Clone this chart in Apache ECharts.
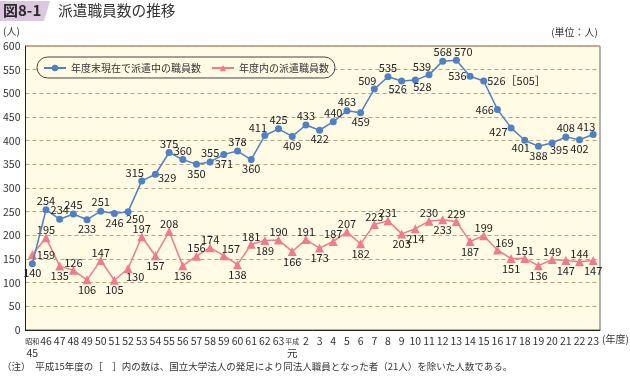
<!DOCTYPE html>
<html>
<head>
<meta charset="utf-8">
<script src="https://cdn.jsdelivr.net/npm/echarts@6/dist/echarts.min.js"></script>
<style>
  html, body { margin: 0; padding: 0; background: #fff; }
  #main { width: 630px; height: 376px; }
</style>
</head>
<body>
<div id="main"></div>
<script>
// 年度（昭和45〜63、平成元〜23）
const years = ['昭和\n45', '46', '47', '48', '49', '50', '51', '52', '53', '54', '55', '56', '57', '58', '59', '60', '61', '62', '63',
  '平成\n元', '2', '3', '4', '5', '6', '7', '8', '9', '10', '11', '12', '13', '14', '15', '16', '17', '18', '19', '20', '21', '22', '23'];

// 年度末現在で派遣中の職員数
const activeStaff = [140, 254, 234, 245, 233, 251, 246, 250, 315, 329, 375, 360, 350, 355, 371, 378, 360, 411, 425,
  409, 433, 422, 440, 463, 459, 509, 535, 526, 528, 539, 568, 570, 536, 526, 466, 427, 401, 388, 395, 408, 402, 413];

// 年度内の派遣職員数
const dispatchedStaff = [159, 195, 135, 126, 106, 147, 105, 130, 197, 157, 208, 136, 156, 174, 157, 138, 181, 189, 190,
  166, 191, 173, 187, 207, 182, 223, 231, 203, 214, 230, 233, 229, 187, 199, 169, 151, 151, 136, 149, 147, 144, 147];

// 平成15年度の［ ］内の数
const h15Note = 505;

const yTicks = [0, 50, 100, 150, 200, 250, 300, 350, 400, 450, 500, 550, 600];

// ラベルの置き場所（t:上 b:下 l:左 r:右 …）
const bluePos = ['b', 't', 't', 't', 'b', 't', 'b', 'br', 'tl', 'rb', 't', 't', 'b', 't', 'b', 't', 'b', 'tl', 't',
  'b', 't', 'b', 't', 't', 'b', 'tl', 't', 'bl', 'br', 'tl', 't', 'tr', 'l', 'r', 'l', 'lb', 'bl', 'b', 'br', 't', 'b', 'tl'];
const pinkPos = ['r', 't', 'b', 't', 'b', 't', 'b', 'br', 't', 'b', 't', 'b', 't', 't', 'tr', 'b', 't', 'b', 't',
  'b', 't', 'b', 't', 't', 'b', 't', 't', 'b', 'b', 't', 'b', 't', 'b', 't', 'tr', 'b', 't', 'b', 't', 'b', 't', 'b'];

const FONT = '"Noto Sans CJK JP", "Noto Sans", sans-serif';
const BLUE = '#4F80C6';
const PINK = '#EF7B8B';
const CREAM = '#FFFBE4';

function placeLabel(code, lift) {
  const m = {
    t: { position: 'top', offset: [0, lift] },
    b: { position: 'bottom' },
    l: { position: 'left' },
    r: { position: 'right' },
    tl: { position: 'top', offset: [-7, lift + 1] },
    tr: { position: 'top', offset: [7, lift + 1] },
    bl: { position: 'bottom', offset: [-4, -1] },
    br: { position: 'bottom', offset: [7, -2] },
    rb: { position: 'right', offset: [-1, 4] },
    lb: { position: 'left', offset: [0, 4] }
  };
  return m[code];
}

const blueData = activeStaff.map(function (v, i) {
  const lab = placeLabel(bluePos[i], 0);
  if (years[i] === '15') lab.formatter = '{c}［' + h15Note + '］';
  return { value: v, label: lab };
});
const pinkData = dispatchedStaff.map(function (v, i) {
  return { value: v, label: placeLabel(pinkPos[i], 2) };
});

const myChart = echarts.init(document.getElementById('main'));
const option = {
  backgroundColor: '#fff',
  animation: false,
  textStyle: { fontFamily: FONT },
  grid: {
    left: 25, right: 30, top: 46, bottom: 46,
    show: true,
    backgroundColor: CREAM,
    borderColor: '#666',
    borderWidth: 1
  },
  legend: {
    left: 37, top: 57,
    padding: [6, 6, 5, 6],
    itemGap: 10,
    itemWidth: 22, itemHeight: 8,
    borderColor: '#444', borderWidth: 1, borderRadius: 11,
    backgroundColor: CREAM,
    textStyle: { fontSize: 10, color: '#333', fontFamily: FONT },
    data: ['年度末現在で派遣中の職員数', '年度内の派遣職員数']
  },
  graphic: [
    // タイトル
    { type: 'polygon', shape: { points: [[0, 1], [50, 1], [44, 21], [0, 21]] }, style: { fill: '#DCC7E0' } },
    { type: 'text', left: 3, top: 3, style: { text: '図8-1', font: 'bold 15px ' + FONT, fill: '#2a2a2a' } },
    { type: 'text', left: 58, top: 3, style: { text: '派遣職員数の推移', font: '14.7px ' + FONT, fill: '#333' } },
    { type: 'text', left: 3, top: 26, style: { text: '(人)', font: '10px ' + FONT, fill: '#333' } },
    { type: 'text', right: 32, top: 27, style: { text: '(単位：人)', font: '10px ' + FONT, fill: '#333' } },
    { type: 'text', left: 602, top: 334, style: { text: '(年度)', font: '10px ' + FONT, fill: '#333' } },
    { type: 'text', left: 2, top: 362, style: { text: '（注）　平成15年度の［　］内の数は、国立大学法人の発足により同法人職員となった者（21人）を除いた人数である。', font: '9.5px ' + FONT, fill: '#333' } }
  ],
  xAxis: {
    type: 'category',
    data: years,
    boundaryGap: true,
    axisLine: { lineStyle: { color: '#222', width: 1 } },
    axisTick: { inside: true, alignWithLabel: true, length: 4, lineStyle: { color: '#222' } },
    axisLabel: {
      interval: 0,
      margin: 5,
      color: '#333',
      fontSize: 10.5,
      lineHeight: 12,
      formatter: function (v) {
        if (v.indexOf('\n') >= 0) {
          const p = v.split('\n');
          return '{era|' + p[0] + '}\n{n|' + p[1] + '}';
        }
        return v;
      },
      rich: {
        era: { fontSize: 7, lineHeight: 12, color: '#333' },
        n: { fontSize: 10.5, lineHeight: 13, color: '#333' }
      }
    }
  },
  yAxis: {
    type: 'value',
    min: yTicks[0],
    max: yTicks[yTicks.length - 1],
    interval: 50,
    axisLine: { show: true, lineStyle: { color: '#222' } },
    axisTick: { show: false },
    axisLabel: { color: '#333', fontSize: 10.5, margin: 5 },
    splitLine: { lineStyle: { color: '#BFA27C', type: [4, 3], width: 1 } }
  },
  series: [
    {
      name: '年度末現在で派遣中の職員数',
      type: 'line',
      data: blueData,
      symbol: 'circle',
      symbolSize: 7,
      lineStyle: { color: BLUE, width: 1.5 },
      itemStyle: { color: BLUE },
      label: { show: true, color: '#222', fontSize: 11, distance: 0 },
      z: 3
    },
    {
      name: '年度内の派遣職員数',
      type: 'line',
      data: pinkData,
      symbol: 'triangle',
      symbolSize: 9,
      lineStyle: { color: PINK, width: 1.5 },
      itemStyle: { color: PINK },
      label: { show: true, color: '#222', fontSize: 11, distance: 0 },
      z: 2
    }
  ]
};
myChart.setOption(option);
window.addEventListener('resize', function () {
  myChart.resize();
});
</script>
</body>
</html>
